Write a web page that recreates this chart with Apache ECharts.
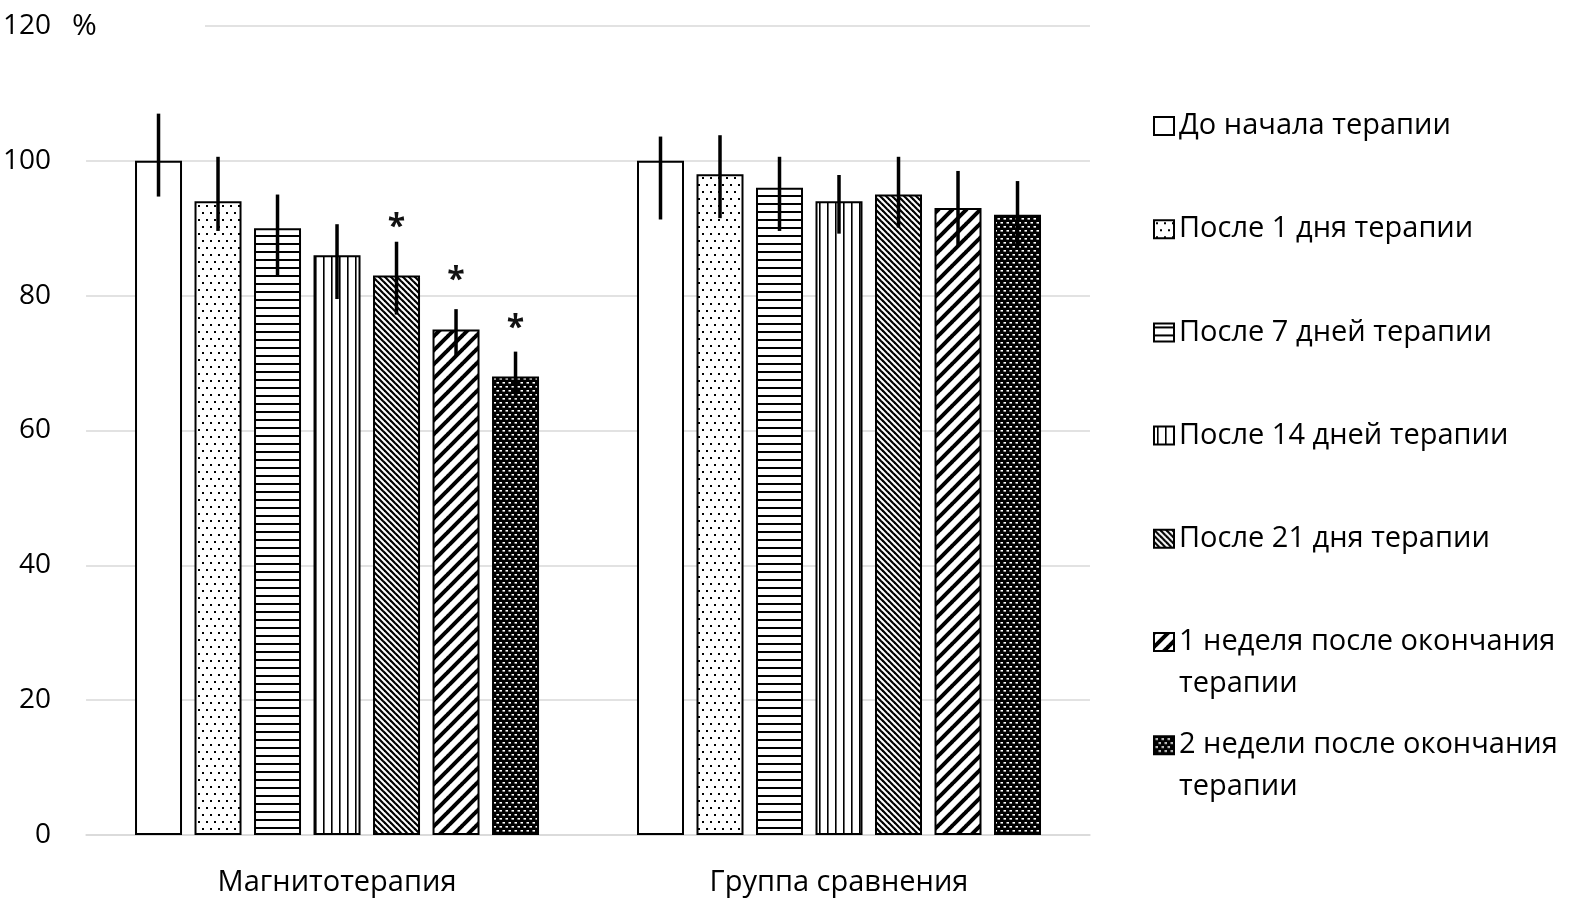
<!DOCTYPE html>
<html><head><meta charset="utf-8">
<script src="https://cdn.jsdelivr.net/npm/echarts@6/dist/echarts.min.js"></script>
<style>html,body{margin:0;padding:0;background:#fff}#c{width:1571px;height:906px}</style>
</head><body><div id="c"></div>
<script>
// ---- data ----
const categories = ['Магнитотерапия', 'Группа сравнения'];
const seriesNames = ['До начала терапии', 'После 1 дня терапии', 'После 7 дней терапии', 'После 14 дней терапии', 'После 21 дня терапии', '1 неделя после окончания терапии', '2 недели после окончания терапии'];
const means   = [[100, 100], [94, 98], [90, 96], [86, 94], [83, 95], [75, 93], [68, 92]];
const errLow  = [[94.7, 91.3], [89.6, 91.5], [82.8, 89.6], [79.5, 89.2], [77.2, 90.1], [70.9, 87.5], [64.8, 87.0]];
const errHigh = [[107.0, 103.6], [100.6, 103.8], [95.0, 100.6], [90.6, 97.9], [88.0, 100.6], [78.0, 98.5], [71.7, 97.0]];
const significant = [[0, 0], [0, 0], [0, 0], [0, 0], [1, 0], [1, 0], [1, 0]];
const yMin = 0, yMax = 120, yStep = 20;
const yUnit = '%';

// ---- styling ----
const FONT = '"Open Sans", "Noto Sans", sans-serif';
const BAR_W = 47, BAR_GAP = 0.266;
const LEG_TOP = 100, LEG_PITCH = 103.2, LEG_W = 395, LEG_FS = 29, LEG_LH = 42;

function tile(w, h, draw) {
  const c = document.createElement('canvas');
  c.width = w; c.height = h;
  const g = c.getContext('2d');
  g.fillStyle = '#fff'; g.fillRect(0, 0, w, h);
  g.fillStyle = '#000'; g.strokeStyle = '#000';
  draw(g, w, h);
  return c;
}
const patterns = [
  '#ffffff',
  { image: tile(16, 14, g => { [[2,2],[10,2],[6,9],[14,9]].forEach(p => g.fillRect(p[0], p[1], 2, 2)); }), repeat: 'repeat' },
  { image: tile(8, 8, g => g.fillRect(0, 3, 8, 2)), repeat: 'repeat' },
  { image: tile(8, 8, g => g.fillRect(3, 0, 1.6, 8)), repeat: 'repeat' },
  { image: tile(6, 6, (g, s) => { g.lineWidth = 2.2; for (let k = -1; k <= 1; k++) { g.beginPath(); g.moveTo(k*s - 1, -1); g.lineTo(k*s + s + 1, s + 1); g.stroke(); } }), repeat: 'repeat' },
  { image: tile(14, 14, (g, s) => { g.lineWidth = 4; for (let k = -1; k <= 1; k++) { g.beginPath(); g.moveTo(k*s - 1, s + 1); g.lineTo(k*s + s + 1, -1); g.stroke(); } }), repeat: 'repeat' },
  { image: tile(6, 8, g => { g.fillRect(0, 0, 6, 8); g.fillStyle = '#fff'; g.fillRect(1.5, 2, 2.5, 1.6); g.fillRect(4.5, 6, 2.5, 1.6); g.fillRect(-1.5, 6, 2.5, 1.6); }), repeat: 'repeat' }
];

const mctx = document.createElement('canvas').getContext('2d');
mctx.font = LEG_FS + 'px ' + FONT;
function wrapLines(name) {
  const words = name.split(' ');
  let line = '';
  const lines = [];
  words.forEach(w => {
    const t = line ? line + ' ' + w : w;
    if (mctx.measureText(t).width > LEG_W && line) { lines.push(line); line = w; } else line = t;
  });
  lines.push(line);
  return lines;
}
// legend text is centred on its icon, so pad the top with empty lines
// to keep the icon level with the first line of a wrapped label
function legendText(name) {
  const lines = wrapLines(name);
  const pad = new Array(lines.length - 1).fill('');
  return pad.concat(lines).join('\n');
}

const barSeries = seriesNames.map((name, i) => ({
  name, type: 'bar', data: means[i],
  barWidth: BAR_W, barGap: (BAR_GAP * 100) + '%',
  itemStyle: { color: patterns[i], borderColor: '#000', borderWidth: 2 },
  emphasis: { disabled: true }, z: 2
}));

const errData = [];
seriesNames.forEach((n, s) => categories.forEach((c, ci) => {
  errData.push([ci, s, errLow[s][ci], errHigh[s][ci], means[s][ci], significant[s][ci]]);
}));

function renderErr(params, api) {
  const cat = api.value(0), s = api.value(1);
  const step = BAR_W * (1 + BAR_GAP);
  const cx = api.coord([cat, 0])[0] + (s - (seriesNames.length - 1) / 2) * step;
  const pLo = api.coord([cat, api.value(2)])[1];
  const pHi = api.coord([cat, api.value(3)])[1];
  const children = [{ type: 'line', shape: { x1: cx, y1: pLo, x2: cx, y2: pHi }, style: { stroke: '#000', lineWidth: 3.5 } }];
  if (api.value(5)) {
    const pv = api.coord([cat, api.value(4)])[1];
    children.push({ type: 'text', style: { text: '*', x: cx, y: pv - 48, align: 'center', verticalAlign: 'middle', font: 'bold 32px ' + FONT, fill: '#111' } });
  }
  return { type: 'group', children };
}

const legends = seriesNames.map((name, i) => {
  const extra = (wrapLines(name).length - 1) * LEG_LH;
  return {
    orient: 'vertical', left: 1148, top: LEG_TOP + i * LEG_PITCH - extra,
    data: [name], icon: 'rect', itemWidth: 20, itemHeight: 18, itemGap: 0, selectedMode: false,
    formatter: legendText,
    textStyle: { fontFamily: FONT, fontSize: LEG_FS, color: '#000', lineHeight: LEG_LH }
  };
});

const chart = echarts.init(document.getElementById('c'), null, { renderer: 'canvas' });
chart.setOption({
  animation: false,
  backgroundColor: '#fff',
  grid: { left: 85, right: 481, top: 26, bottom: 71, containLabel: false },
  legend: legends,
  xAxis: {
    type: 'category', data: categories,
    axisLine: { lineStyle: { color: '#d9d9d9', width: 1.5 } },
    axisTick: { show: false },
    axisLabel: { fontFamily: FONT, fontSize: 29, color: '#000', margin: 33 }
  },
  yAxis: {
    type: 'value', min: yMin, max: yMax, interval: yStep,
    axisLine: { show: false }, axisTick: { show: false },
    axisLabel: { fontFamily: FONT, fontSize: 28, color: '#000', margin: 35 },
    splitLine: { lineStyle: { color: '#d9d9d9', width: 1.5 } }
  },
  graphic: [
    { type: 'rect', z: 100, shape: { x: 60, y: 16, width: 145, height: 20 }, style: { fill: '#fff' } },
    { type: 'text', z: 101, style: { text: yUnit, x: 72, y: 26, verticalAlign: 'middle', font: '30px ' + FONT, fill: '#000' } }
  ],
  series: barSeries.concat([{
    type: 'custom', name: 'err', data: errData, renderItem: renderErr,
    encode: { x: 0, y: [2, 3] }, z: 5, silent: true
  }])
});
</script></body></html>
